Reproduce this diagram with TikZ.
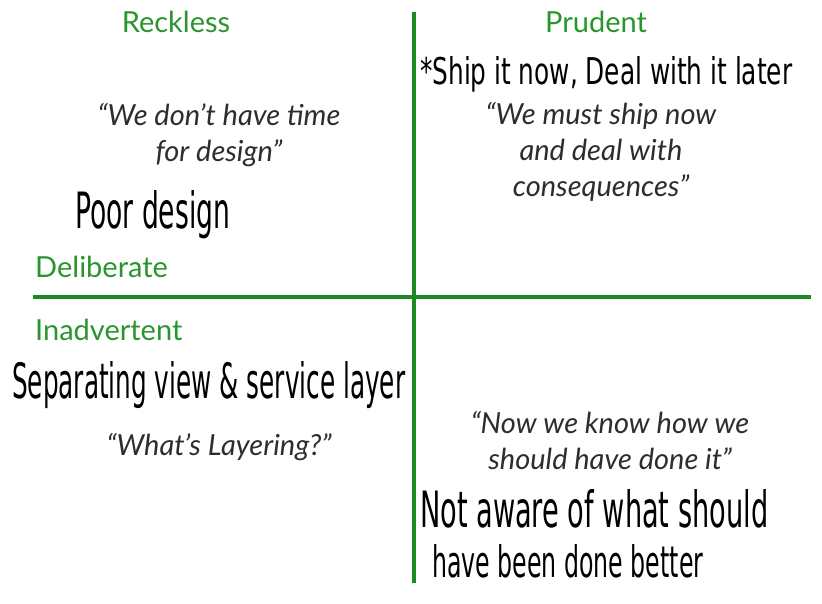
\documentclass[tikz,border=0pt]{standalone}
\usepackage{fontspec}
\setmainfont{Lato}
\newfontfamily\handfont{DejaVu Sans}
\usepackage{graphicx}
\definecolor{axisgreen}{RGB}{28,138,34}
\definecolor{labelgreen}{RGB}{40,150,45}
\definecolor{quotegray}{RGB}{45,45,45}
\tikzset{
  axis/.style={draw=axisgreen, line width=3.6pt},
  corner/.style={text=labelgreen, font=\fontsize{29}{34}\selectfont, inner sep=0pt},
  quote/.style={text=quotegray, font=\itshape\fontsize{29}{36}\selectfont, align=center, inner sep=0pt},
  hand/.style={text=black, anchor=base west, inner sep=0pt, font=\handfont}
}
\begin{document}
\begin{tikzpicture}[x=1pt,y=-1pt]
  \useasboundingbox (0,0) rectangle (822,603);
  % quadrant axes
  \coordinate (vtop) at (414,12);
  \coordinate (vbot) at (414,583);
  \coordinate (hleft) at (33,297);
  \coordinate (hright) at (811,297);
  \draw[axis] (vtop) -- (vbot);
  \draw[axis] (hleft) -- (hright);
  % corner labels
  \node[corner] (reckless) at (176,22) {Reckless};
  \node[corner] (prudent) at (596,22) {Prudent};
  \node[corner, anchor=west] (deliberate) at (35,267) {Deliberate};
  \node[corner, anchor=west] (inadvertent) at (35,330) {Inadvertent};
  % quotes
  \node[quote] (q1) at (219,135) {“We don’t have time\\for design”};
  \node[quote] (q2) at (601,152) {“We must ship now\\and deal with\\consequences”};
  \node[quote] (q3) at (219,447) {“What’s Layering?”};
  \node[quote] (q4) at (610,441) {“Now we know how we\\should have done it”};
  % handwritten notes
  \node[hand] (n1) at (75,228) {\resizebox{155pt}{38pt}{Poor design}};
  \node[hand] (n2) at (420,84) {\resizebox{372pt}{28pt}{*Ship it now, Deal with it later}};
  \node[hand] (n3) at (12,398) {\resizebox{393pt}{37pt}{Separating view \& service layer}};
  \node[hand] (n4) at (420,527) {\resizebox{348pt}{38pt}{Not aware of what should}};
  \node[hand] (n5) at (432,577) {\resizebox{271pt}{33pt}{have been done better}};
\end{tikzpicture}
\end{document}
